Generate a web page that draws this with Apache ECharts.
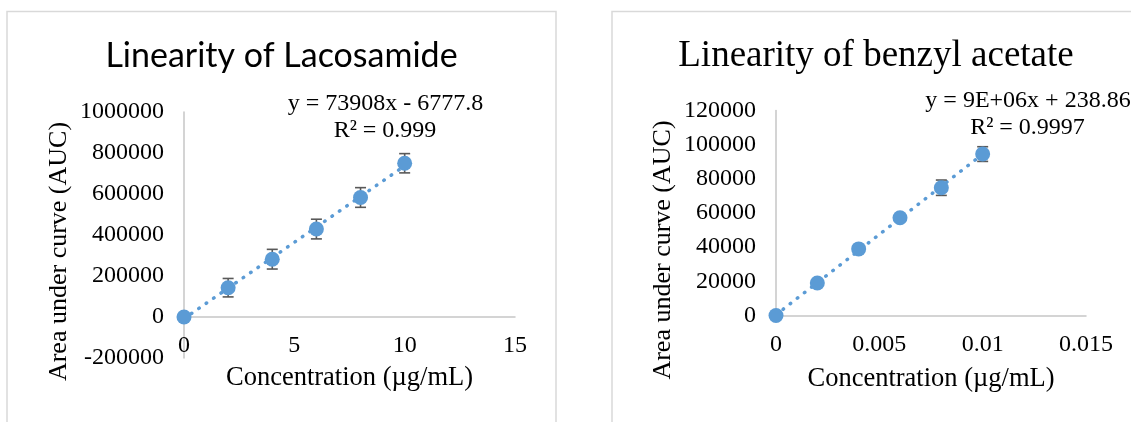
<!DOCTYPE html>
<html>
<head>
    <meta charset="utf-8">
    <title>Linearity</title>
    <script src="https://cdn.jsdelivr.net/npm/echarts@6/dist/echarts.min.js"></script>
    <style>
        html, body { margin: 0; padding: 0; background: #fff; }
    </style>
</head>
<body>
<div id="main" style="width: 1131px;height:422px;"></div>
<script type="text/javascript">
    // Lacosamide
    var lacX = [0, 2, 4, 6, 8, 10];
    var lacY = [0, 143000, 282000, 429000, 583000, 750000];
    var lacErr = [0, 45000, 48000, 48000, 48000, 47000];
    var lacXTicks = [0, 5, 10, 15];
    var lacYTicks = [-200000, 0, 200000, 400000, 600000, 800000, 1000000];

    // benzyl acetate
    var benX = [0, 0.002, 0.004, 0.006, 0.008, 0.01];
    var benY = [0, 19000, 39000, 57200, 74800, 94500];
    var benErr = [0, 2000, 1500, 1500, 4500, 4300];
    var benXTicks = [0, 0.005, 0.01, 0.015];
    var benYTicks = [0, 20000, 40000, 60000, 80000, 100000, 120000];

    var blue = '#5B9BD5';
    var serif = '"Liberation Serif", "Times New Roman", serif';

    // least squares line, like the excel trendline
    function fit(xs, ys) {
        var n = xs.length, sx = 0, sy = 0, sxx = 0, sxy = 0;
        for (var i = 0; i < n; i++) {
            sx += xs[i]; sy += ys[i];
            sxx += xs[i] * xs[i]; sxy += xs[i] * ys[i];
        }
        var a = (n * sxy - sx * sy) / (n * sxx - sx * sx);
        var b = (sy - a * sx) / n;
        var x0 = xs[0], x1 = xs[n - 1];
        return [[x0, a * x0 + b], [x1, a * x1 + b]];
    }

    function zip(xs, ys, es) {
        var out = [];
        for (var i = 0; i < xs.length; i++) {
            out.push(es ? [xs[i], ys[i], es[i]] : [xs[i], ys[i]]);
        }
        return out;
    }

    function errRender(params, api) {
        var x = api.value(0), y = api.value(1), e = api.value(2);
        if (!e) return null;
        var top = api.coord([x, y + e]);
        var bot = api.coord([x, y - e]);
        var w = 5.5;
        var st = { stroke: '#595959', lineWidth: 1.6 };
        return {
            type: 'group',
            children: [
                { type: 'line', shape: { x1: top[0], y1: top[1], x2: bot[0], y2: bot[1] }, style: st },
                { type: 'line', shape: { x1: top[0] - w, y1: top[1], x2: top[0] + w, y2: top[1] }, style: st },
                { type: 'line', shape: { x1: bot[0] - w, y1: bot[1], x2: bot[0] + w, y2: bot[1] }, style: st }
            ]
        };
    }

    function num(v) {
        return String(+(+v).toFixed(6));
    }

    // gridHeight/yTicks: used to put the x axis on the y=0 line
    function xAxis(idx, ticks, gridHeight, yTicks) {
        var ymin = yTicks[0], ymax = yTicks[yTicks.length - 1];
        var shift = gridHeight * (0 - ymin) / (ymax - ymin);
        return {
            type: 'value', gridIndex: idx,
            min: ticks[0], max: ticks[ticks.length - 1], interval: ticks[1] - ticks[0],
            offset: -shift,
            axisLine: { show: true, onZero: false, lineStyle: { color: '#c6c6c6', width: 1.5 } },
            axisTick: { show: false },
            splitLine: { show: false },
            axisLabel: { margin: 17, color: '#000', fontFamily: serif, fontSize: 24, formatter: num }
        };
    }

    function yAxis(idx, ticks) {
        return {
            type: 'value', gridIndex: idx,
            min: ticks[0], max: ticks[ticks.length - 1], interval: ticks[1] - ticks[0],
            axisLine: { show: true, onZero: false, lineStyle: { color: '#c6c6c6', width: 1.5 } },
            axisTick: { show: false },
            splitLine: { show: false },
            axisLabel: { margin: 20, color: '#000', fontFamily: serif, fontSize: 24, formatter: num }
        };
    }

    function txt(x, y, s, font, rot) {
        return {
            type: 'text', x: x, y: y, rotation: rot || 0, silent: true,
            style: { text: s, x: 0, y: 0, font: font, fill: '#000', align: 'center', verticalAlign: 'middle' }
        };
    }

    var grids = [
        { left: 184, top: 112, width: 331, height: 246, outerBoundsMode: 'none', containLabel: false },
        { left: 776, top: 110.5, width: 310, height: 205, outerBoundsMode: 'none', containLabel: false }
    ];

    var myChart = echarts.init(document.getElementById('main'));
    var option = {
        animation: false,
        backgroundColor: '#fff',
        grid: grids,
        xAxis: [
            xAxis(0, lacXTicks, grids[0].height, lacYTicks),
            xAxis(1, benXTicks, grids[1].height, benYTicks)
        ],
        yAxis: [yAxis(0, lacYTicks), yAxis(1, benYTicks)],
        series: [
            {
                type: 'line', xAxisIndex: 0, yAxisIndex: 0, data: fit(lacX, lacY),
                showSymbol: false, silent: true, z: 2,
                lineStyle: { color: blue, width: 3.5, type: [0.5, 8.5], cap: 'round' }
            },
            {
                type: 'custom', xAxisIndex: 0, yAxisIndex: 0, data: zip(lacX, lacY, lacErr),
                renderItem: errRender, encode: { x: 0, y: 1 }, z: 3
            },
            {
                type: 'scatter', xAxisIndex: 0, yAxisIndex: 0, data: zip(lacX, lacY),
                symbol: 'circle', symbolSize: 15, itemStyle: { color: blue, opacity: 1 }, z: 4
            },
            {
                type: 'line', xAxisIndex: 1, yAxisIndex: 1, data: fit(benX, benY),
                showSymbol: false, silent: true, z: 2,
                lineStyle: { color: blue, width: 3.5, type: [0.5, 8.5], cap: 'round' }
            },
            {
                type: 'custom', xAxisIndex: 1, yAxisIndex: 1, data: zip(benX, benY, benErr),
                renderItem: errRender, encode: { x: 0, y: 1 }, z: 3
            },
            {
                type: 'scatter', xAxisIndex: 1, yAxisIndex: 1, data: zip(benX, benY),
                symbol: 'circle', symbolSize: 15, itemStyle: { color: blue, opacity: 1 }, z: 4
            }
        ],
        graphic: [
            // chart area frames
            { type: 'rect', silent: true, shape: { x: 7, y: 11.5, width: 549, height: 430 },
              style: { fill: 'none', stroke: '#d9d9d9', lineWidth: 1.5 } },
            { type: 'rect', silent: true, shape: { x: 612, y: 11.5, width: 549, height: 430 },
              style: { fill: 'none', stroke: '#d9d9d9', lineWidth: 1.5 } },

            txt(281.5, 56, 'Linearity of Lacosamide', '34px Lato, "Liberation Sans", sans-serif'),
            txt(385.5, 103.5, 'y = 73908x - 6777.8', '24px ' + serif),
            txt(385, 130.5, 'R² = 0.999', '24px ' + serif),
            txt(349.5, 378, 'Concentration (µg/mL)', '26.5px ' + serif),
            txt(59, 251.5, 'Area under curve (AUC)', '26px ' + serif, Math.PI / 2),

            txt(876, 56, 'Linearity of benzyl acetate', '37px ' + serif),
            txt(1028, 100.5, 'y = 9E+06x + 238.86', '24px ' + serif),
            txt(1027.5, 127.5, 'R² = 0.9997', '24px ' + serif),
            txt(931, 379.5, 'Concentration (µg/mL)', '26.5px ' + serif),
            txt(663, 250, 'Area under curve (AUC)', '26px ' + serif, Math.PI / 2)
        ]
    };
    myChart.setOption(option);
</script>
</body>
</html>
